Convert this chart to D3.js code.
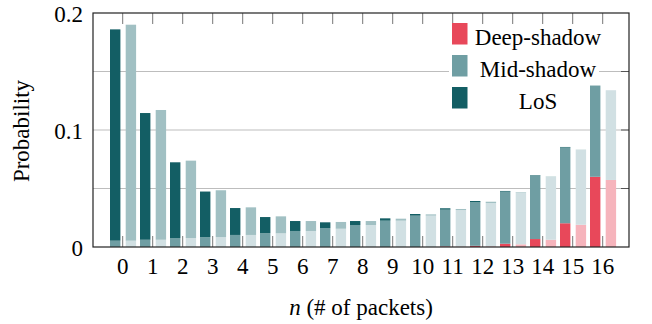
<!DOCTYPE html>
<html lang="en">
<head>
  <meta charset="UTF-8">
  <title>Packets per shadow state</title>
  <script src="https://d3js.org/d3.v7.min.js"></script>
  <style>
    body { margin: 0; background: #fff; }
    text { font-family: "Liberation Serif", "Times New Roman", serif; fill: #000; }
  </style>
</head>
<body>
  <div id="chart"></div>
  <script>
    // number of packets n
    var packets = d3.range(0, 17);
    var yTickLabels = [0, 0.1, 0.2];
    var yGrid = [0.05, 0.1, 0.15];

    // left (solid) bars
    var deepA = [0, 0, 0, 0, 0, 0, 0, 0, 0, 0, 0, 0.0005, 0.001, 0.0028, 0.0068, 0.0203, 0.060];
    var midA  = [0.0054, 0.0062, 0.0077, 0.0084, 0.0103, 0.0118, 0.0137, 0.0162, 0.0188, 0.0225, 0.0268, 0.0314, 0.0372, 0.0445, 0.0544, 0.0647, 0.078];
    var losA  = [0.1806, 0.1083, 0.0647, 0.0390, 0.0230, 0.0138, 0.0085, 0.0049, 0.0034, 0.0020, 0.0014, 0.0012, 0.0011, 0.0006, 0.0003, 0.0005, 0];

    // right (faded) bars
    var deepB = [0, 0, 0, 0, 0, 0, 0, 0, 0, 0, 0, 0.0004, 0.0006, 0.0023, 0.0062, 0.019, 0.0573];
    var midB  = [0.0054, 0.0062, 0.0077, 0.0085, 0.0103, 0.0117, 0.0137, 0.0156, 0.0188, 0.0225, 0.0268, 0.0312, 0.0370, 0.0443, 0.0540, 0.0640, 0.0767];
    var losB  = [0.1846, 0.1109, 0.0661, 0.0400, 0.0236, 0.0145, 0.0085, 0.0058, 0.0034, 0.0017, 0.0011, 0.0009, 0.0011, 0.0004, 0.0002, 0.0002, 0];

    var seriesNames = ["Deep-shadow", "Mid-shadow", "LoS"];
    var colorsA = ["#e8485a", "#6f9ea3", "#135e64"];
    var colorsB = ["#f6b4bc", "#d1e0e3", "#a1c0c3"];

    var width = 652, height = 324;
    var pLeft = 93, pRight = 629, pTop = 13, pBottom = 247;
    var fs = "23px";

    var svg = d3.select("#chart").append("svg")
      .attr("width", width)
      .attr("height", height);

    var x = d3.scaleLinear().domain([0, 16]).range([122.7, 602.7]);
    var y = d3.scaleLinear().domain([0, 0.2]).range([pBottom, pTop]);

    // grid lines
    svg.append("g").selectAll("line")
      .data(yGrid)
      .enter()
      .append("line")
        .attr("x1", pLeft).attr("x2", pRight)
        .attr("y1", function (d) { return y(d); })
        .attr("y2", function (d) { return y(d); })
        .attr("stroke", "#bdbdbd")
        .attr("stroke-width", 1);

    // legend background goes under the bars
    var lg = svg.append("g");
    lg.append("rect")
      .attr("x", 449).attr("y", 16)
      .attr("width", 150).attr("height", 98)
      .attr("fill", "#fff");

    // stacks
    function stackRows(deep, mid, los) {
      return packets.map(function (n, i) {
        return { n: n, parts: [deep[i], mid[i], los[i]] };
      });
    }

    function drawBars(rows, colors, offset, barW) {
      var g = svg.append("g");
      rows.forEach(function (r) {
        var base = 0;
        r.parts.forEach(function (v, k) {
          if (v <= 0) return;
          g.append("rect")
            .attr("x", x(r.n) + offset)
            .attr("width", barW)
            .attr("y", y(base + v))
            .attr("height", y(base) - y(base + v))
            .attr("fill", colors[k]);
          base += v;
        });
      });
    }

    drawBars(stackRows(deepA, midA, losA), colorsA, -12.7, 10.4);
    drawBars(stackRows(deepB, midB, losB), colorsB, 3, 10.4);

    // x ticks top and bottom
    var ticks = svg.append("g").attr("stroke", "#777").attr("stroke-width", 1);
    packets.forEach(function (n) {
      ticks.append("line")
        .attr("x1", x(n)).attr("x2", x(n))
        .attr("y1", pTop).attr("y2", pTop + 11);
      ticks.append("line")
        .attr("x1", x(n)).attr("x2", x(n))
        .attr("y1", pBottom).attr("y2", pBottom - 11);
    });
    // y ticks on right
    yGrid.forEach(function (v) {
      ticks.append("line")
        .attr("x1", pRight).attr("x2", pRight - 8)
        .attr("y1", y(v)).attr("y2", y(v))
        .attr("stroke", "#555");
    });

    // frame
    svg.append("rect")
      .attr("x", pLeft).attr("y", pTop)
      .attr("width", pRight - pLeft).attr("height", pBottom - pTop)
      .attr("fill", "none")
      .attr("stroke", "#222")
      .attr("stroke-width", 1.2);

    // tick labels
    svg.append("g").selectAll("text")
      .data(packets)
      .enter()
      .append("text")
        .attr("x", function (d) { return x(d); })
        .attr("y", 274)
        .attr("text-anchor", "middle")
        .style("font-size", fs)
        .text(function (d) { return d; });

    svg.append("g").selectAll("text")
      .data(yTickLabels)
      .enter()
      .append("text")
        .attr("x", 83)
        .attr("y", function (d) { return y(d) + 8.5; })
        .attr("text-anchor", "end")
        .style("font-size", fs)
        .text(function (d) { return d; });

    // axis titles
    svg.append("text")
      .attr("transform", "translate(28.5,131) rotate(-90)")
      .attr("text-anchor", "middle")
      .style("font-size", fs)
      .text("Probability");

    var xt = svg.append("text")
      .attr("x", 361)
      .attr("y", 315)
      .attr("text-anchor", "middle")
      .style("font-size", fs);
    xt.append("tspan").style("font-style", "italic").text("n");
    xt.append("tspan").text(" (# of packets)");

    // legend entries
    var lgTop = svg.append("g");
    seriesNames.forEach(function (s, i) {
      lgTop.append("rect")
        .attr("x", 452).attr("y", 23 + i * 32)
        .attr("width", 15.5).attr("height", 21.5)
        .attr("fill", colorsA[i]);
      lgTop.append("text")
        .attr("x", 538).attr("y", 45 + i * 32)
        .attr("text-anchor", "middle")
        .style("font-size", fs)
        .text(s);
    });
  </script>
</body>
</html>
